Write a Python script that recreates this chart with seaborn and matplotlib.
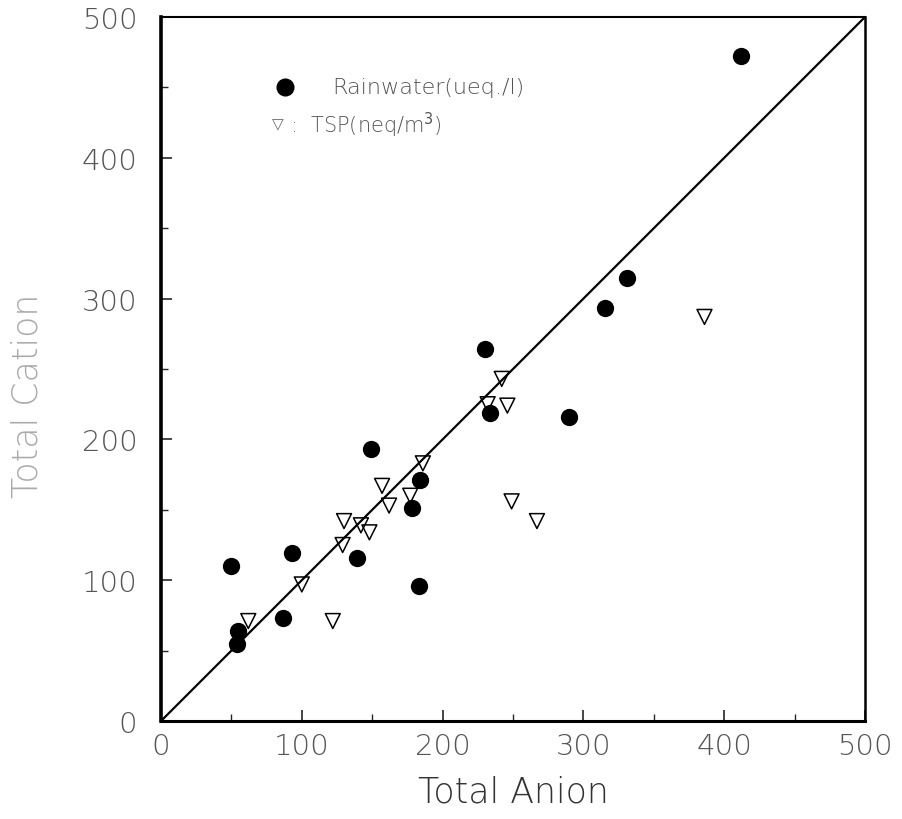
import matplotlib
matplotlib.use("Agg")
import matplotlib.pyplot as plt
import numpy as np
import pandas as pd
import seaborn as sns

# Rainwater samples (ueq/l): total anion vs total cation
rain_anion = [50, 93, 55, 54, 87, 139, 183, 178, 184, 149, 230, 234, 290, 315, 331, 412]
rain_cation = [110, 119, 64, 55, 73, 116, 96, 151, 171, 193, 264, 219, 216, 293, 315, 472]

# TSP samples (neq/m3)
tsp_anion = [62, 100, 122, 130, 129, 142, 148, 157, 162, 177, 186, 242, 232, 246, 249, 267, 386]
tsp_cation = [71, 97, 71, 142, 125, 139, 134, 167, 153, 160, 183, 243, 225, 224, 156, 142, 287]

# 1:1 reference line
one_to_one = [0, 500]

x_ticks = [0, 100, 200, 300, 400, 500]
y_ticks = [0, 100, 200, 300, 400, 500]

rain = pd.DataFrame({"anion": rain_anion, "cation": rain_cation})
tsp = pd.DataFrame({"anion": tsp_anion, "cation": tsp_cation})

sns.set_theme(style="white")
plt.rcParams["font.family"] = ["DejaVu Sans"]

fig = plt.figure(figsize=(9.03, 8.2), dpi=100)
ax = fig.add_axes([0.1783, 0.1195, 0.7796, 0.8585])

sns.lineplot(x=one_to_one, y=one_to_one, ax=ax, color="black", lw=1.6)
sns.scatterplot(data=rain, x="anion", y="cation", ax=ax, marker="o",
                s=155, color="black", edgecolor="black", linewidth=0, zorder=3)
sns.scatterplot(data=tsp, x="anion", y="cation", ax=ax, marker="v",
                s=115, facecolor="none", edgecolor="black", linewidth=1.1, zorder=4)

ax.set_xlim(0, 500)
ax.set_ylim(0, 500)
ax.set_xticks(x_ticks)
ax.set_yticks(y_ticks)
ax.set_xticks(np.arange(50, 500, 100), minor=True)
ax.set_yticks(np.arange(50, 500, 100), minor=True)
ax.tick_params(axis="both", which="major", direction="in", length=8, width=1.2,
               bottom=True, left=True, top=False, right=False)
ax.tick_params(axis="both", which="minor", direction="in", length=5, width=1.0,
               bottom=True, left=True, top=False, right=False)
ax.tick_params(axis="x", which="major", pad=8)
ax.tick_params(axis="y", which="major", pad=17)
for lab in ax.get_xticklabels() + ax.get_yticklabels():
    lab.set_fontsize(21)
    lab.set_fontweight("light")
    lab.set_color("#555555")

ax.spines["left"].set_linewidth(2.6)
ax.spines["bottom"].set_linewidth(2.2)
ax.spines["right"].set_linewidth(1.8)
ax.spines["top"].set_linewidth(1.5)
for side in ax.spines:
    ax.spines[side].set_color("black")

ax.set_xlabel("Total Anion", fontsize=25, fontweight="light", color="#333333",
              labelpad=10)
ax.set_ylabel("Total Cation", fontsize=25, fontweight="light", color="#aaaaaa")
ax.yaxis.set_label_coords(-0.166, 0.464)

# key
ax.plot([0.176], [0.9006], marker="o", ms=12, color="black", transform=ax.transAxes,
        linestyle="none", clip_on=False)
ax.text(0.243, 0.9006, "Rainwater(ueq./l)", transform=ax.transAxes, fontsize=16,
        fontweight="light", color="#555555", va="center", ha="left")
ax.text(0.157, 0.848, "\u25bd", transform=ax.transAxes, fontsize=11,
        fontweight="normal", color="#666666", va="center", ha="left")
ax.text(0.183, 0.848, ":  TSP(neq/m$^3$)", transform=ax.transAxes, fontsize=15,
        fontweight="light", color="#555555", va="center", ha="left")

fig.savefig("out.png", dpi=100, facecolor="white")
